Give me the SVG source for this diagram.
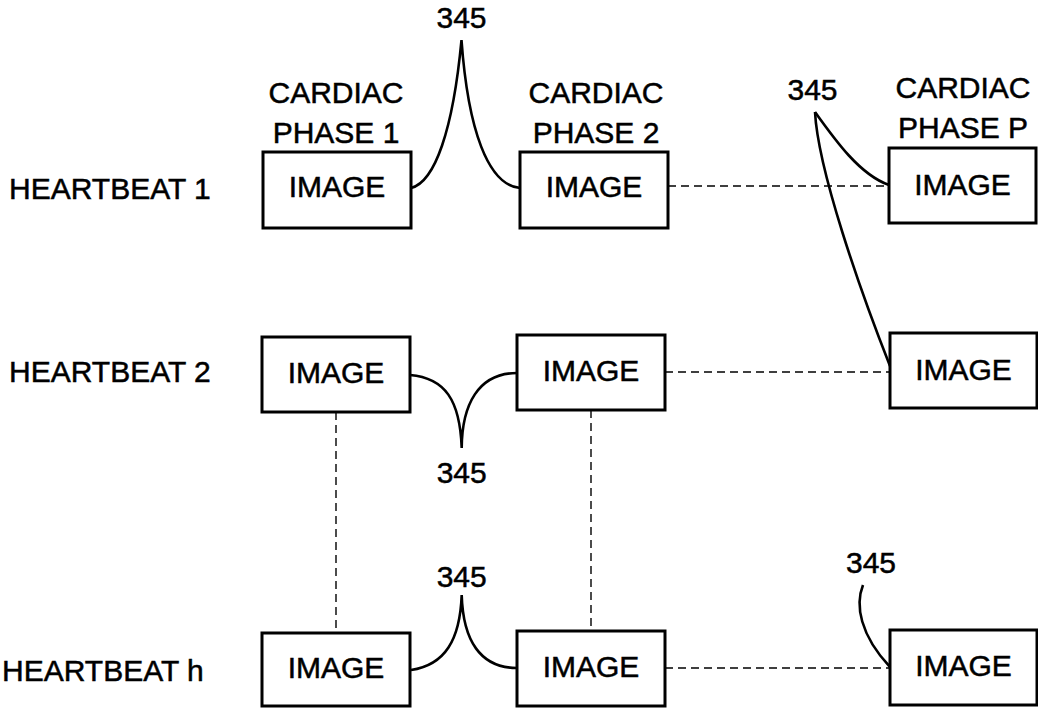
<svg xmlns="http://www.w3.org/2000/svg" width="1038" height="709" viewBox="0 0 1038 709">
<style>
text{font-family:"Liberation Sans",Arial,sans-serif;font-size:30px;fill:#000;stroke:#000;stroke-width:0.5}
.c{text-anchor:middle}
.box{fill:#fff;stroke:#000;stroke-width:3}
.lead{fill:none;stroke:#000;stroke-width:2.6}
.dash{fill:none;stroke:#000;stroke-width:1.4;stroke-dasharray:8 5}
</style>
<rect width="1038" height="709" fill="#fff"/>
<g id="connectors">
<path class="dash" d="M668,186 H889"/>
<path class="dash" d="M665,372 H890"/>
<path class="dash" d="M665,668 H890"/>
<path class="dash" d="M336,412 V633"/>
<path class="dash" d="M591,410 V631"/>
<path class="lead" d="M411,188 C435,182 453,130 461.5,40 C468,130 488,185 520,188"/>
<path class="lead" d="M410,375 C445,378 460,400 461.7,448 C462,405 478,373 517,373"/>
<path class="lead" d="M411,670 C445,665 460,640 461.7,595 C463,640 480,668 517,668"/>
<path class="lead" d="M815,112 C835,140 860,175 889,185"/>
<path class="lead" d="M815,112 C818,170 860,290 890,366"/>
<path class="lead" d="M863,585 C855,605 860,635 890,667"/>
</g>
<g id="ref-labels">
<text class="c" x="461.5" y="28">345</text>
<text class="c" x="812.5" y="100">345</text>
<text class="c" x="461.7" y="483">345</text>
<text class="c" x="461.7" y="587">345</text>
<text class="c" x="871" y="573">345</text>
</g>
<g id="col-1-header"><text class="c" x="336" y="103">CARDIAC</text><text class="c" x="336" y="143">PHASE 1</text></g>
<g id="col-2-header"><text class="c" x="596" y="103">CARDIAC</text><text class="c" x="596" y="143">PHASE 2</text></g>
<g id="col-p-header"><text class="c" x="963" y="98">CARDIAC</text><text class="c" x="963" y="138">PHASE P</text></g>
<g id="row-1-label"><text x="9" y="199">HEARTBEAT 1</text></g>
<g id="row-2-label"><text x="9" y="382">HEARTBEAT 2</text></g>
<g id="row-h-label"><text x="2" y="681">HEARTBEAT h</text></g>
<g id="img-1-1"><rect class="box" x="263" y="152" width="148" height="76"/><text class="c" x="337" y="197">IMAGE</text></g>
<g id="img-1-2"><rect class="box" x="520" y="152" width="148" height="76"/><text class="c" x="594" y="197">IMAGE</text></g>
<g id="img-1-p"><rect class="box" x="889" y="148" width="147" height="75"/><text class="c" x="962.5" y="195">IMAGE</text></g>
<g id="img-2-1"><rect class="box" x="262" y="337" width="148" height="75"/><text class="c" x="336" y="383">IMAGE</text></g>
<g id="img-2-2"><rect class="box" x="517" y="335" width="148" height="75"/><text class="c" x="591" y="381">IMAGE</text></g>
<g id="img-2-p"><rect class="box" x="890" y="333" width="147" height="75"/><text class="c" x="963.5" y="380">IMAGE</text></g>
<g id="img-h-1"><rect class="box" x="262" y="633" width="148" height="73"/><text class="c" x="336" y="678">IMAGE</text></g>
<g id="img-h-2"><rect class="box" x="517" y="631" width="148" height="75"/><text class="c" x="591" y="677">IMAGE</text></g>
<g id="img-h-p"><rect class="box" x="890" y="630" width="147" height="75"/><text class="c" x="963.5" y="676">IMAGE</text></g>
</svg>
